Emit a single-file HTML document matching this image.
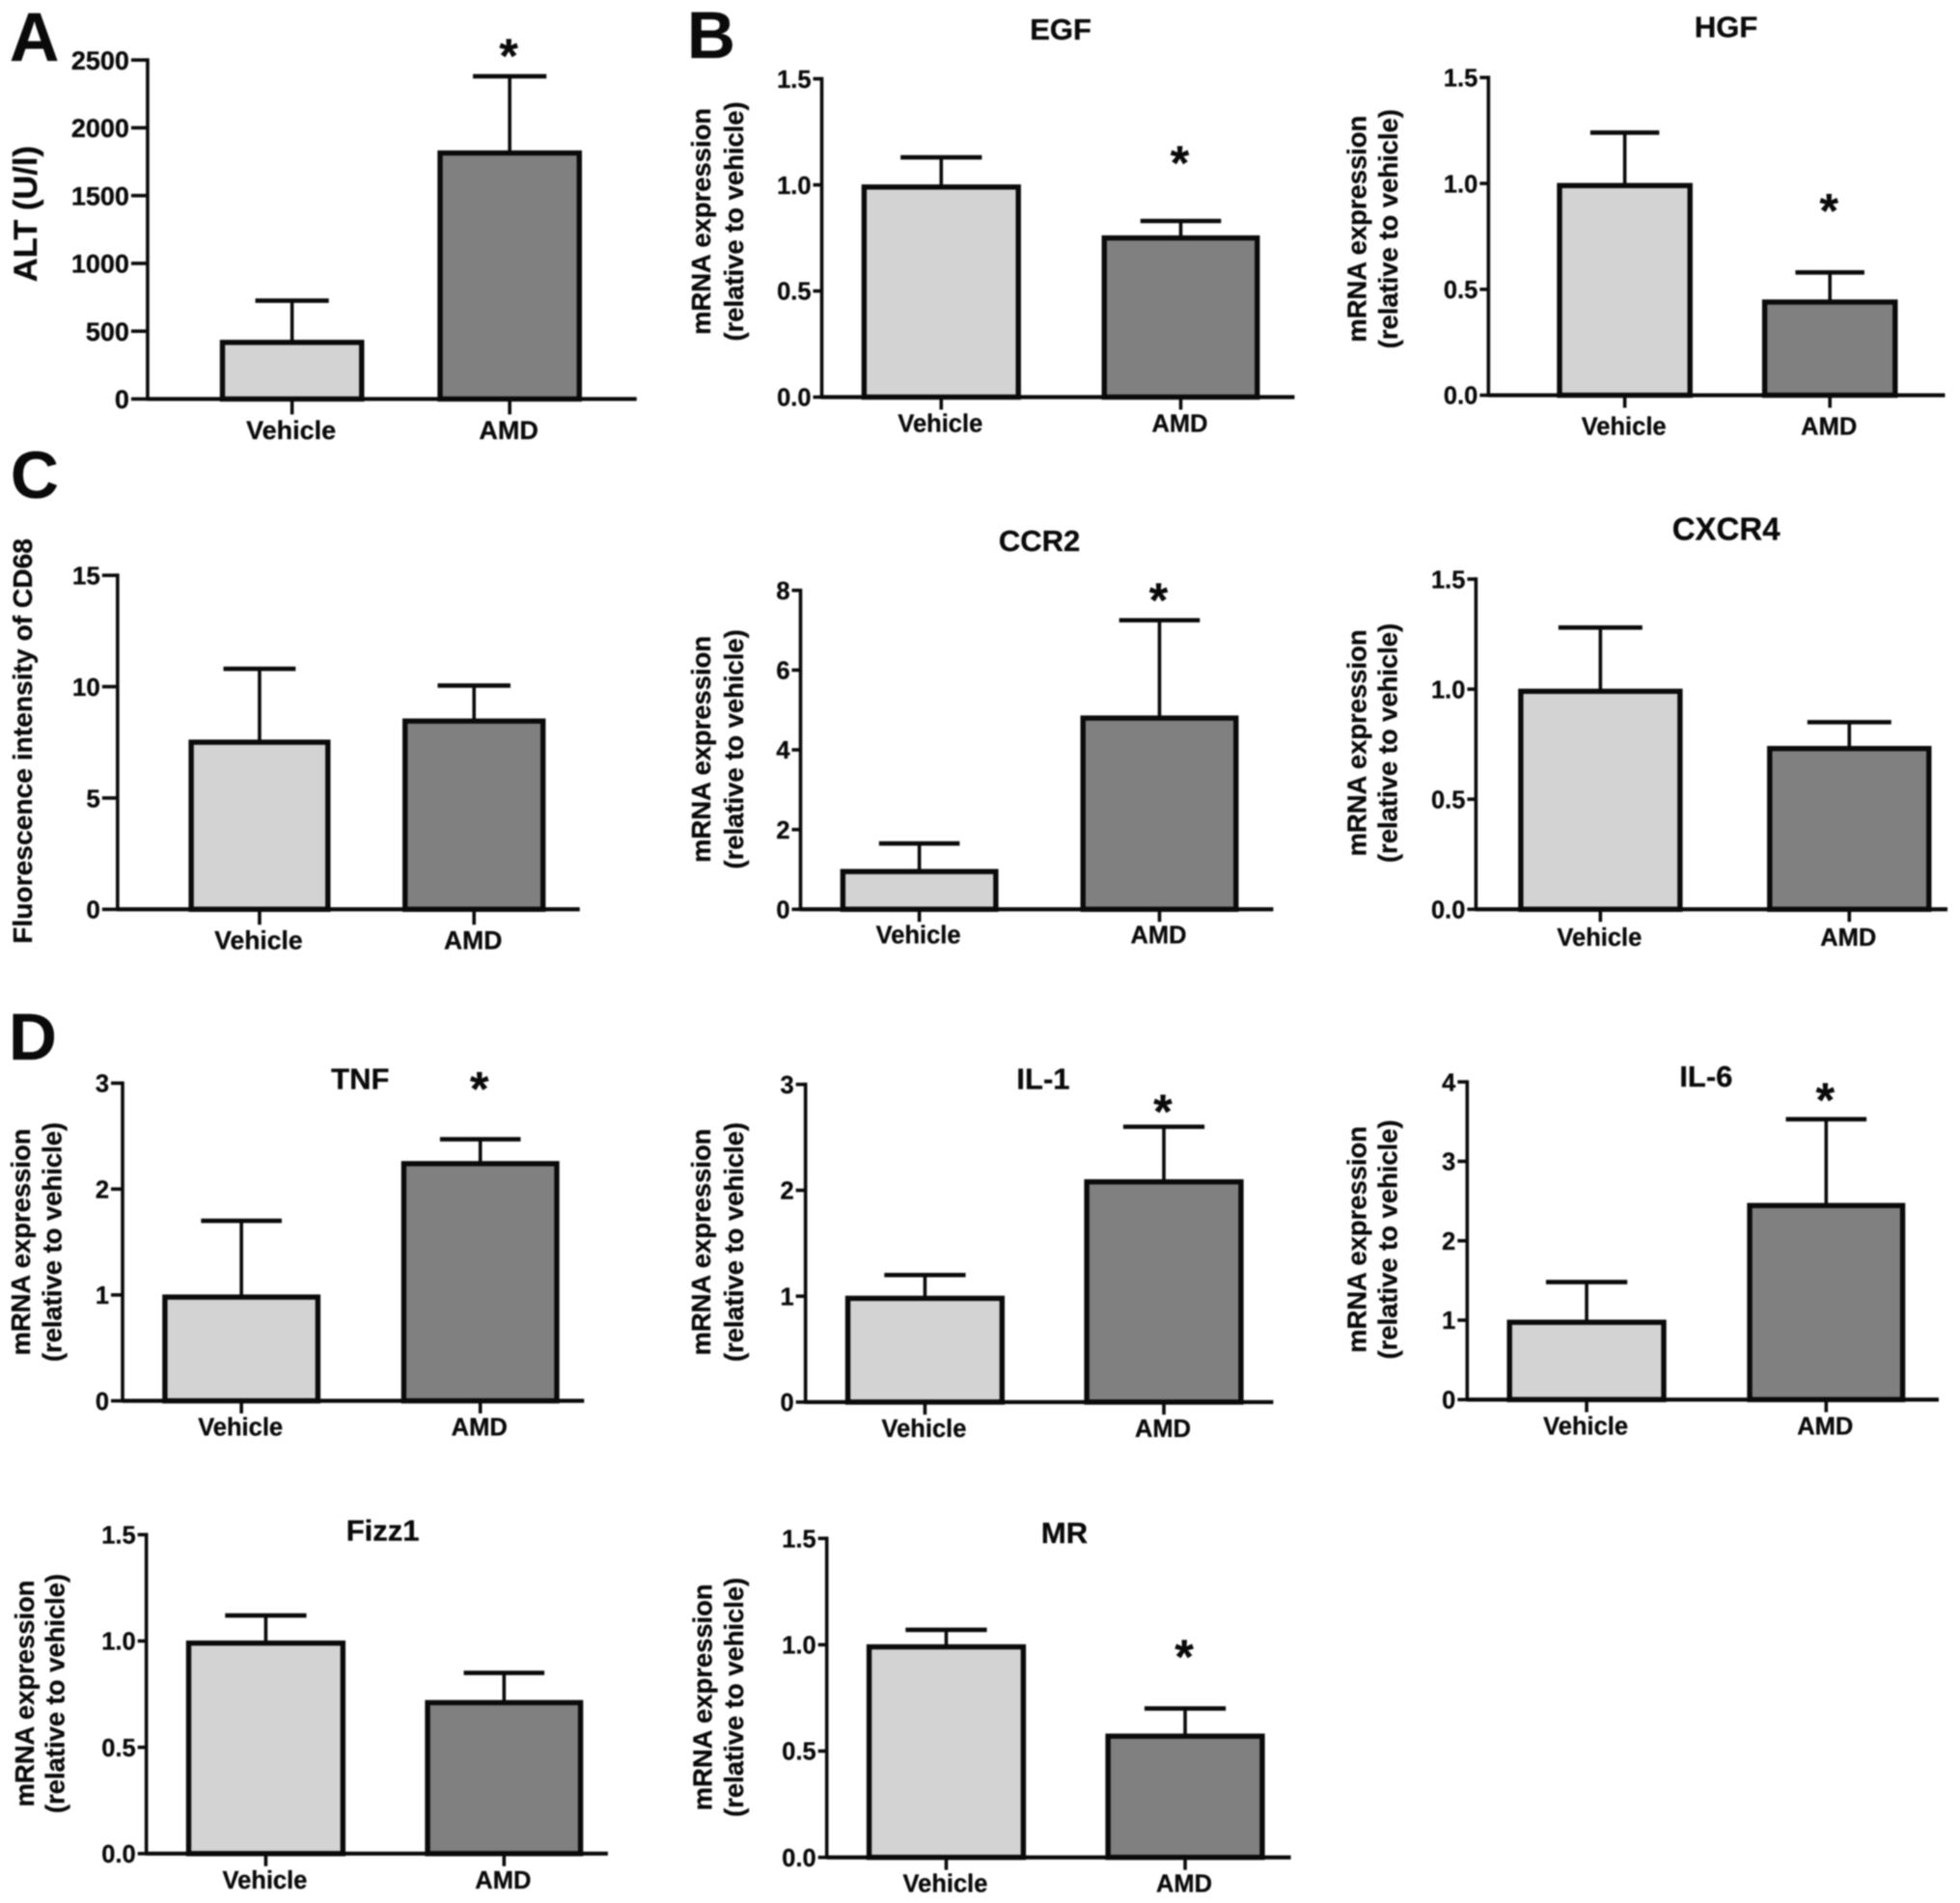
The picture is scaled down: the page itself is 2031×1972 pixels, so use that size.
<!DOCTYPE html>
<html lang="en">
<head>
<meta charset="utf-8">
<title>ALT, CD68 and mRNA expression in Vehicle and AMD groups</title>
<style>
  html, body { margin: 0; padding: 0; background: #fff; }
  body { width: 2031px; height: 1972px; overflow: hidden; }
  svg { display: block; filter: blur(0.7px); }
  text { font-family: "Liberation Sans", Arial, sans-serif; font-weight: bold; fill: #0a0a0a; stroke: #0a0a0a; stroke-width: 0.3px; }
</style>
</head>
<body>
<svg id="figure" xmlns="http://www.w3.org/2000/svg" width="2031" height="1972" viewBox="0 0 2031 1972">
  <text x="10" y="63" font-size="71">A</text>
  <text x="712" y="60" font-size="69">B</text>
  <text x="11" y="516" font-size="69">C</text>
  <text x="9" y="1098" font-size="69">D</text>
</svg>
<script>
const categories = ['Vehicle', 'AMD'];

const altTicks = ['0', '500', '1000', '1500', '2000', '2500'];
const altMeans = [433, 1830];
const altUppers = [725, 2380];

const ratioTicks = ['0.0', '0.5', '1.0', '1.5'];
const egfMeans = [1.0, 0.76];
const egfUppers = [1.13, 0.83];
const hgfMeans = [1.0, 0.45];
const hgfUppers = [1.24, 0.58];

const cd68Ticks = ['0', '5', '10', '15'];
const cd68Means = [7.6, 8.55];
const cd68Uppers = [10.8, 10.05];

const ccr2Ticks = ['0', '2', '4', '6', '8'];
const ccr2Means = [1.0, 4.85];
const ccr2Uppers = [1.65, 7.25];

const cxcr4Means = [1.0, 0.74];
const cxcr4Uppers = [1.28, 0.85];

const tnfTicks = ['0', '1', '2', '3'];
const tnfMeans = [1.0, 2.26];
const tnfUppers = [1.7, 2.47];

const il1Ticks = ['0', '1', '2', '3'];
const il1Means = [1.0, 2.1];
const il1Uppers = [1.2, 2.6];

const il6Ticks = ['0', '1', '2', '3', '4'];
const il6Means = [1.0, 2.47];
const il6Uppers = [1.48, 3.53];

const fizz1Means = [1.0, 0.72];
const fizz1Uppers = [1.12, 0.85];

const mrMeans = [1.0, 0.58];
const mrUppers = [1.07, 0.7];

const mrnaLabel = ['mRNA expression', '(relative to vehicle)'];

/* Layout is expressed in the 1567-wide drawing grid and scaled by K. */
const K = 2031 / 1567;
const charts = [
  { id: 'alt', title: '', ylabel: ['ALT (U/l)'], labelSize: 34.5, labelX: [29.3], labelY: 171, ticks: altTicks, means: altMeans, uppers: altUppers,
    axisX: 118, axisEnd: 509, top: 48, bottom: 319, bars: [[177, 290], [351, 464]], tickLen: 17, tickFont: 27, catFont: 27, catGap: 41.5, star: 20 },
  { id: 'egf', title: 'EGF', titleSize: 31, titleX: 848, titleY: 23, ylabel: mrnaLabel, labelSize: 27.4, labelX: [568, 594], labelY: 177, ticks: ratioTicks, means: egfMeans, uppers: egfUppers,
    axisX: 657, axisEnd: 1035, top: 63, bottom: 317.5, bars: [[690, 815], [882, 1006]], tickLen: 9, tickFont: 25.5, catFont: 25.5, catGap: 36, star: 50 },
  { id: 'hgf', title: 'HGF', titleSize: 31, titleX: 1380, titleY: 21, ylabel: mrnaLabel, labelSize: 27.4, labelX: [1092, 1117], labelY: 183, ticks: ratioTicks, means: hgfMeans, uppers: hgfUppers,
    axisX: 1190, axisEnd: 1555, top: 62, bottom: 316, bars: [[1246, 1352], [1410, 1516]], tickLen: 9, tickFont: 25.5, catFont: 25.5, catGap: 41, star: 53 },
  { id: 'cd68', title: '', ylabel: ['Fluorescence intensity of CD68'], labelSize: 28.2, labelX: [25.4], labelY: 592.5, ticks: cd68Ticks, means: cd68Means, uppers: cd68Uppers,
    axisX: 94, axisEnd: 463.5, top: 460, bottom: 727, bars: [[152, 263], [323, 435]], tickLen: 16, tickFont: 26, catFont: 26.5, catGap: 41, star: null },
  { id: 'ccr2', title: 'CCR2', titleSize: 31, titleX: 831, titleY: 432, ylabel: mrnaLabel, labelSize: 27.4, labelX: [568, 594], labelY: 599, ticks: ccr2Ticks, means: ccr2Means, uppers: ccr2Uppers,
    axisX: 640, axisEnd: 1018, top: 472, bottom: 727, bars: [[673, 797], [865, 989]], tickLen: 9, tickFont: 25.5, catFont: 25.5, catGap: 35, star: 20 },
  { id: 'cxcr4', title: 'CXCR4', titleSize: 33, titleX: 1380, titleY: 422.5, ylabel: mrnaLabel, labelSize: 27.4, labelX: [1092, 1117], labelY: 594, ticks: ratioTicks, means: cxcr4Means, uppers: cxcr4Uppers,
    axisX: 1180, axisEnd: 1557, top: 463, bottom: 727, bars: [[1215, 1344], [1414, 1543]], tickLen: 9, tickFont: 25.5, catFont: 25.5, catGap: 37.5, star: null },
  { id: 'tnf', title: 'TNF', titleSize: 31, titleX: 288, titleY: 862, ylabel: mrnaLabel, labelSize: 27.4, labelX: [24, 49], labelY: 993, ticks: tnfTicks, means: tnfMeans, uppers: tnfUppers,
    axisX: 98, axisEnd: 467, top: 866, bottom: 1120, bars: [[131, 255], [322, 446]], tickLen: 12, tickFont: 25.5, catFont: 25.5, catGap: 36, star: 44 },
  { id: 'il-1', title: 'IL-1', titleSize: 31, titleX: 834, titleY: 862, ylabel: mrnaLabel, labelSize: 27.4, labelX: [568, 594], labelY: 993, ticks: il1Ticks, means: il1Means, uppers: il1Uppers,
    axisX: 644, axisEnd: 1018, top: 867, bottom: 1121, bars: [[677, 802], [868, 993]], tickLen: 10, tickFont: 25.5, catFont: 25.5, catGap: 36, star: 16 },
  { id: 'il-6', title: 'IL-6', titleSize: 31, titleX: 1364, titleY: 860, ylabel: mrnaLabel, labelSize: 27.4, labelX: [1092, 1117], labelY: 991, ticks: il6Ticks, means: il6Means, uppers: il6Uppers,
    axisX: 1173, axisEnd: 1550, top: 865, bottom: 1119, bars: [[1206, 1331], [1398, 1522]], tickLen: 10, tickFont: 25.5, catFont: 25.5, catGap: 36, star: 19 },
  { id: 'fizz1', title: 'Fizz1', titleSize: 31, titleX: 306, titleY: 1223, ylabel: mrnaLabel, labelSize: 27.4, labelX: [27, 51.5], labelY: 1354, ticks: ratioTicks, means: fizz1Means, uppers: fizz1Uppers,
    axisX: 117, axisEnd: 486, top: 1227, bottom: 1482, bars: [[150, 275], [341, 465]], tickLen: 9, tickFont: 25.5, catFont: 25.5, catGap: 36, star: null },
  { id: 'mr', title: 'MR', titleSize: 31, titleX: 851, titleY: 1225, ylabel: mrnaLabel, labelSize: 27.4, labelX: [569, 594], labelY: 1357, ticks: ratioTicks, means: mrMeans, uppers: mrUppers,
    axisX: 661, axisEnd: 1032, top: 1230, bottom: 1485, bars: [[694, 819], [885, 1010]], tickLen: 9, tickFont: 25.5, catFont: 25.5, catGap: 36, star: 45 }
];

const SVG_NS = 'http://www.w3.org/2000/svg';
const BAR_STROKE = 5.4;
const BAR_OUTSET = 1.6;
const AXIS_STROKE = 3.6;
const INK = '#0a0a0a';
const BAR_FILLS = ['#d3d3d3', '#808080'];
const figure = document.getElementById('figure');

function make(tag, parent, attrs, content) {
  const node = document.createElementNS(SVG_NS, tag);
  for (const key in attrs) node.setAttribute(key, attrs[key]);
  if (content !== undefined) node.textContent = content;
  parent.appendChild(node);
  return node;
}

function yScale(chart) {
  const tickValues = chart.ticks.map(Number);
  const maxValue = tickValues[tickValues.length - 1];
  const bottom = chart.bottom * K;
  const top = chart.top * K;
  return function (value) {
    return bottom - (value / maxValue) * (bottom - top);
  };
}

function drawChart(chart) {
  const y = yScale(chart);
  const axisX = chart.axisX * K;
  const baseY = chart.bottom * K;

  const group = make('g', figure, {});
  
  

  if (chart.title) {
    const title = make('text', group, { x: chart.titleX * K, y: chart.titleY * K + chart.titleSize * 0.36, 'font-size': chart.titleSize, 'text-anchor': 'middle' }, chart.title);
    
    
  }

  chart.ylabel.forEach(function (line, i) {
    const bx = chart.labelX[i] * K;
    const by = chart.labelY * K;
    const label = make('text', group, { x: bx, y: by, 'font-size': chart.labelSize, 'text-anchor': 'middle', transform: 'rotate(-90 ' + bx + ' ' + by + ')' }, line);
    
    
  });

  categories.forEach(function (category, i) {
    const left = chart.bars[i][0] * K;
    const right = chart.bars[i][1] * K;
    const center = (left + right) / 2;
    const capHalf = (right - left) * 0.26;
    const meanY = y(chart.means[i]);
    const upperY = y(chart.uppers[i]);

    const stem = make('line', group, { x1: center, x2: center, y1: meanY, y2: upperY, stroke: INK, 'stroke-width': AXIS_STROKE });
    
    

    const cap = make('line', group, { x1: center - capHalf, x2: center + capHalf, y1: upperY, y2: upperY, stroke: INK, 'stroke-width': 4.6 });
    
    

    const bar = make('rect', group, {
      x: left - BAR_OUTSET + BAR_STROKE / 2,
      y: meanY + BAR_STROKE / 2 - 0.5,
      width: right - left + 2 * BAR_OUTSET - BAR_STROKE,
      height: baseY - meanY - BAR_STROKE / 2 + 0.5,
      fill: BAR_FILLS[i],
      stroke: INK,
      'stroke-width': BAR_STROKE
    });
    
    

    const xTick = make('line', group, { x1: center, x2: center, y1: baseY, y2: baseY + (chart.tickLen > 14 ? 16 : 13), stroke: INK, 'stroke-width': AXIS_STROKE });
    
    

    const xLabel = make('text', group, { x: center - 1, y: baseY + chart.catGap, 'font-size': chart.catFont, 'text-anchor': 'middle' }, category);
    
    
  });

  chart.ticks.forEach(function (tick) {
    const tickY = y(Number(tick));
    const mark = make('line', group, { x1: axisX - chart.tickLen, x2: axisX, y1: tickY, y2: tickY, stroke: INK, 'stroke-width': AXIS_STROKE });
    
    

    const tickLabel = make('text', group, { x: axisX - chart.tickLen - 2, y: tickY + chart.tickFont * 0.36, 'font-size': chart.tickFont, 'text-anchor': 'end' }, tick);
    
    
  });

  const yAxis = make('line', group, { x1: axisX, x2: axisX, y1: chart.top * K - AXIS_STROKE / 2, y2: baseY + AXIS_STROKE / 2, stroke: INK, 'stroke-width': AXIS_STROKE });
  
  

  const xAxis = make('line', group, { x1: axisX, x2: chart.axisEnd * K, y1: baseY, y2: baseY, stroke: INK, 'stroke-width': 4.2 });
  
  

  if (chart.star !== null) {
    const amdLeft = chart.bars[1][0] * K;
    const amdRight = chart.bars[1][1] * K;
    const starSize = 50;
    const starCenterY = y(chart.uppers[1]) - chart.star * K;
    const star = make('text', group, { x: (amdLeft + amdRight) / 2 - 1, y: starCenterY + starSize * 0.44, 'font-size': starSize, 'text-anchor': 'middle' }, '*');
    
    
  }
}

charts.forEach(drawChart);
</script>
</body>
</html>
